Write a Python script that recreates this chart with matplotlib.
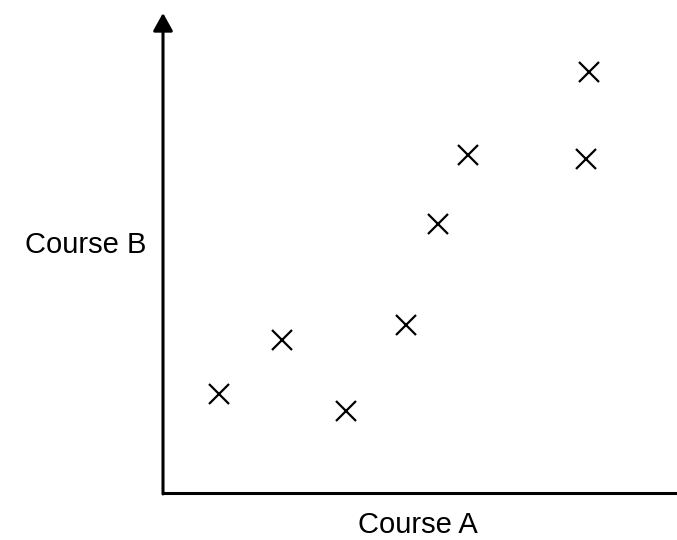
import matplotlib

matplotlib.use("Agg")
import matplotlib.pyplot as plt

# scores (arbitrary 0-10 scale)
course_a = [1.09, 2.32, 3.56, 4.73, 5.35, 5.93, 8.29, 8.23]
course_b = [2.06, 3.19, 1.71, 3.50, 5.60, 7.04, 8.77, 6.96]

plt.rcParams["font.family"] = ["Liberation Sans", "DejaVu Sans"]

fig = plt.figure(figsize=(6.77, 5.4), dpi=100)
ax = fig.add_axes([163 / 677, 47 / 540, 514 / 677, 480 / 540])
ax.set_xlim(0, 10)
ax.set_ylim(0, 10)
for s in ax.spines.values():
    s.set_visible(False)
ax.set_xticks([])
ax.set_yticks([])

# axes lines
ax.plot([0, 10], [0, 0], color="black", lw=2.2, clip_on=False, solid_capstyle="butt")
ax.annotate("", xy=(0, 10), xytext=(0, -0.02), xycoords="data",
            arrowprops=dict(arrowstyle="-|>,head_length=0.54,head_width=0.3",
                            color="black", lw=2.2, mutation_scale=20,
                            shrinkA=0, shrinkB=0),
            annotation_clip=False)

ax.plot(course_a, course_b, linestyle="none", marker="x", markersize=14.5,
        markeredgewidth=1.6, color="black", clip_on=False)

fig.text(86 / 677, 1 - 245 / 540, "Course B", ha="center", va="center", fontsize=21)
fig.text(418 / 677, 1 - 525 / 540, "Course A", ha="center", va="center", fontsize=21)

fig.savefig("out.png", dpi=100)
plt.close(fig)
